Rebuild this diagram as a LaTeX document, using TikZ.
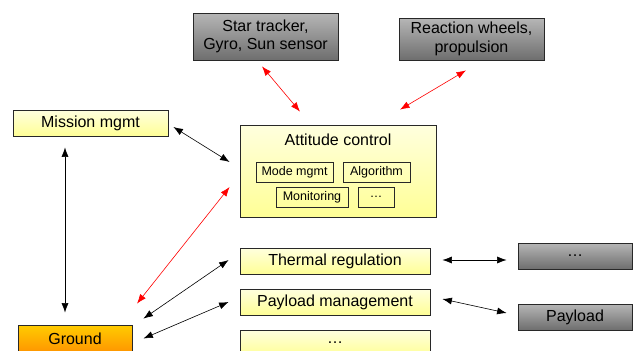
\documentclass[tikz,border=0pt]{standalone}
\usepackage{fontspec}
\setmainfont{Liberation Sans}
\usetikzlibrary{arrows.meta,calc}
\definecolor{ytop}{RGB}{255,255,222}
\definecolor{ybot}{RGB}{255,255,150}
\definecolor{gtop}{RGB}{182,182,182}
\definecolor{gbot}{RGB}{110,110,110}
\definecolor{otop}{RGB}{255,204,0}
\definecolor{obot}{RGB}{255,150,0}
\definecolor{edge}{RGB}{40,40,40}
\tikzset{
  box/.style={draw=edge,line width=0.8pt,inner sep=0pt,align=center,
    font=\fontsize{16}{18.5}\selectfont},
  ybox/.style={box,top color=ytop,bottom color=ybot},
  gbox/.style={box,top color=gtop,bottom color=gbot},
  obox/.style={box,top color=otop,bottom color=obot},
  ibox/.style={draw=edge,line width=0.7pt,inner sep=0pt,
    font=\fontsize{12.5}{14}\selectfont},
  conn/.style={line width=0.6pt,{Latex[length=9.5pt,width=7pt]}-{Latex[length=9.5pt,width=7pt]}},
  bconn/.style={conn,draw=black},
  rconn/.style={conn,draw=red,color=red}
}
\begin{document}
\begin{tikzpicture}[x=1pt,y=-1pt]
\useasboundingbox (0,0) rectangle (633,351);
\node[gbox,minimum width=145pt,minimum height=47pt] (star) at (265.5,36.5) {Star tracker,\\Gyro, Sun sensor};
\node[gbox,minimum width=145pt,minimum height=42pt] (react) at (471.5,39) {Reaction wheels,\\propulsion};
\node[ybox,minimum width=155pt,minimum height=26pt] (mission) at (90.5,123) {Mission mgmt};
\node[ybox,minimum width=196pt,minimum height=92pt] (att) at (338,171) {};
\node[font=\fontsize{16}{18}\selectfont] (atttitle) at (338,140) {Attitude control};
\node[ibox,minimum width=77pt,minimum height=20pt] (mode) at (294.5,172) {Mode mgmt};
\node[ibox,minimum width=67pt,minimum height=20pt] (algo) at (376.5,172) {Algorithm};
\node[ibox,minimum width=72pt,minimum height=20pt] (monit) at (312,197) {Monitoring};
\node[ibox,minimum width=36pt,minimum height=20pt] (idots) at (376,197) {\ldots};
\node[ybox,minimum width=190pt,minimum height=26pt] (therm) at (335,261) {Thermal regulation};
\node[ybox,minimum width=190pt,minimum height=26pt] (paym) at (335,302) {Payload management};
\node[ybox,minimum width=190pt,minimum height=26pt] (ydots) at (335,343) {\ldots};
\node[obox,minimum width=114pt,minimum height=27pt] (ground) at (75,338.5) {Ground};
\node[gbox,minimum width=114pt,minimum height=26pt] (gdots) at (575,256) {\ldots};
\node[gbox,minimum width=114pt,minimum height=26pt] (payg) at (575,317) {Payload};
% connectors
\draw[rconn] ($(star.south)+(-3.5,6)$) -- ($(att.north)+(-38,-13)$);
\draw[rconn] ($(react.south)+(-5.5,10)$) -- ($(att.north)+(62,-15)$);
\draw[bconn] ($(mission.east)+(5,4)$) -- ($(att.west)+(-10,-9)$);
\draw[rconn] ($(att.west)+(-10,16)$) -- ($(ground.north)+(62,-21)$);
\draw[bconn] ($(mission.south)+(-25.5,11)$) -- ($(ground.north)+(-10,-12)$);
\draw[bconn] ($(therm.west)+(-11,-1)$) -- ($(ground.north east)+(11,-6)$);
\draw[bconn] ($(paym.west)+(-11,0)$) -- ($(ground.east)+(11,0)$);
\draw[bconn] ($(therm.east)+(12,-1)$) -- ($(gdots.west)+(-11,4)$);
\draw[bconn] ($(paym.east)+(12,-3)$) -- ($(payg.west)+(-11,-4)$);
\end{tikzpicture}
\end{document}
